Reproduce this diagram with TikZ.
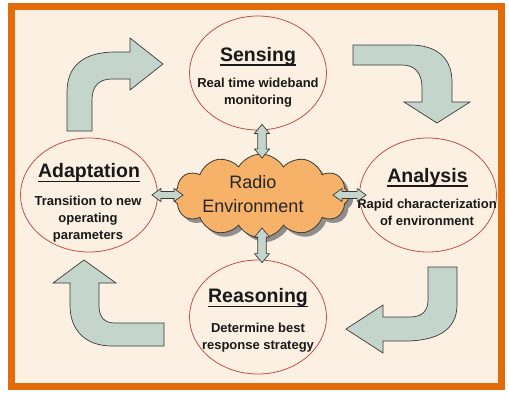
\documentclass[tikz,border=0pt]{standalone}
\usepackage{fontspec}
\setmainfont{Liberation Sans}
\usetikzlibrary{shapes.geometric,shapes.symbols,shadows,calc}
\definecolor{frameorange}{HTML}{E36C0A}
\definecolor{paper}{HTML}{FCF0E2}
\definecolor{blockfill}{HTML}{C4D6CC}
\definecolor{blockline}{HTML}{3A3A3A}
\definecolor{ringred}{HTML}{C0504D}
\definecolor{cloudfill}{HTML}{F5B268}
\tikzset{
  stage/.style  = {ellipse, draw=ringred, line width=0.8pt, fill=paper, minimum width=137pt, minimum height=114pt, inner sep=0},
  ttl/.style    = {anchor=base, inner sep=0, text=black!90, font=\fontsize{19.5}{22}\selectfont\bfseries},
  sub/.style    = {anchor=north, inner sep=0, align=center, text=black!90, font=\fontsize{13}{17}\selectfont\bfseries},
  blk/.style    = {fill=blockfill, draw=blockline, line width=0.7pt, line join=miter},
  envcloud/.style = {cloud, cloud puffs=12, cloud puff arc=120, cloud ignores aspect, draw=blockline, line width=0.8pt,
                   fill=cloudfill, minimum width=176pt, minimum height=84pt, inner sep=0,
                   drop shadow={shadow xshift=4pt, shadow yshift=-4pt, fill=black!60, opacity=0.7}},
  envtxt/.style = {anchor=north, inner sep=0, align=center, text=black!85, font=\fontsize{18}{24}\selectfont}
}
\newcommand{\ulbox}[1]{\setbox0\hbox{#1}\rlap{\rule[-4.6pt]{\wd0}{1.3pt}}\box0}
% double block arrow: ends, half head width, half shaft width
\newcommand{\dblarrow}[4]{%
  \coordinate (da) at (#1); \coordinate (db) at (#2);
  \coordinate (ha) at ($(da)!9pt!(db)$); \coordinate (hb) at ($(db)!9pt!(da)$);
  \draw[blk] (da) -- ($(ha)!#3!90:(db)$) -- ($(ha)!#4!90:(db)$) -- ($(hb)!#4!-90:(da)$) -- ($(hb)!#3!-90:(da)$)
    -- (db) -- ($(hb)!#3!90:(da)$) -- ($(hb)!#4!90:(da)$) -- ($(ha)!#4!-90:(db)$) -- ($(ha)!#3!-90:(db)$) -- cycle;}

\begin{document}
\begin{tikzpicture}[x=1pt, y=-1pt]
  \useasboundingbox (0,0) rectangle (509,400);
  \fill[white] (0,0) rectangle (509,400);
  \draw[frameorange, line width=7pt, fill=paper] (11.7,6.7) rectangle (501.3,386.3);

  % the four stages
  \node[stage] (sens) at (258,73)  {};
  \node[stage] (adap) at (89,195)  {};
  \node[stage] (anal) at (428,195) {};
  \node[stage] (reas) at (258,317) {};

  \node[ttl] (sensT) at (258,61)    {\ulbox{Sensing}};
  \node[sub] (sensS) at (258,77.5)  {Real time wideband\\monitoring};
  \node[ttl] (adapT) at (89,177.5)  {\ulbox{Adaptation}};
  \node[sub] (adapS) at (88,196)    {Transition to new\\operating\\parameters};
  \node[ttl] (analT) at (427.5,182) {\ulbox{Analysis}};
  \node[sub] (analS) at (427,199)   {Rapid characterization\\of environment};
  \node[ttl] (reasT) at (258,302.5) {\ulbox{Reasoning}};
  \node[sub] (reasS) at (258,322.5) {Determine best\\response strategy};

  % cycle arrows
  \draw[blk] (67,131) -- (67,92) .. controls (67,64) and (86,52) .. (115,52) -- (130,52) -- (130,38) -- (163,64)
    -- (130,90) -- (130,79) -- (112,79) .. controls (99,79) and (92,86) .. (92,100) -- (92,131) -- cycle;
  \draw[blk] (353,45) -- (410,45) .. controls (437,45) and (452,58) .. (452,82) -- (452,102) -- (470,102) -- (437,123)
    -- (404,102) -- (422,102) -- (422,88) .. controls (422,73) and (415,65) .. (402,65) -- (353,65) -- cycle;
  \draw[blk] (428,267) -- (457,267) -- (457,305) .. controls (457,330) and (437,341) .. (405,341) -- (383,341)
    -- (383,353) -- (346,329) -- (383,305) -- (383,317) -- (410,317) .. controls (422,317) and (428,311) .. (428,300) -- cycle;
  \draw[blk] (84,260) -- (116,283) -- (99,283) -- (99,305) .. controls (99,317) and (104,323) .. (115,323) -- (164,323)
    -- (164,346) -- (112,346) .. controls (85,346) and (70,330) .. (70,305) -- (70,283) -- (53,283) -- cycle;

  % radio environment
  \node[envcloud] (env) at (261,196) {};
  \node[envtxt] (envT) at (253,175) {Radio\\Environment};

  \dblarrow{$(sens.south)+(4,-6)$}{$(env.center)+(1,-38)$}{7.5pt}{4.2pt}
  \dblarrow{$(env.center)+(1,32)$}{$(reas.north)+(4,3)$}{7.5pt}{4.2pt}
  \dblarrow{$(adap.east)+(-6,0)$}{$(env.center)+(-78,-1)$}{6.5pt}{3.5pt}
  \dblarrow{$(env.center)+(72,-1)$}{$(anal.west)+(7,0)$}{6.5pt}{3.5pt}
\end{tikzpicture}
\end{document}
